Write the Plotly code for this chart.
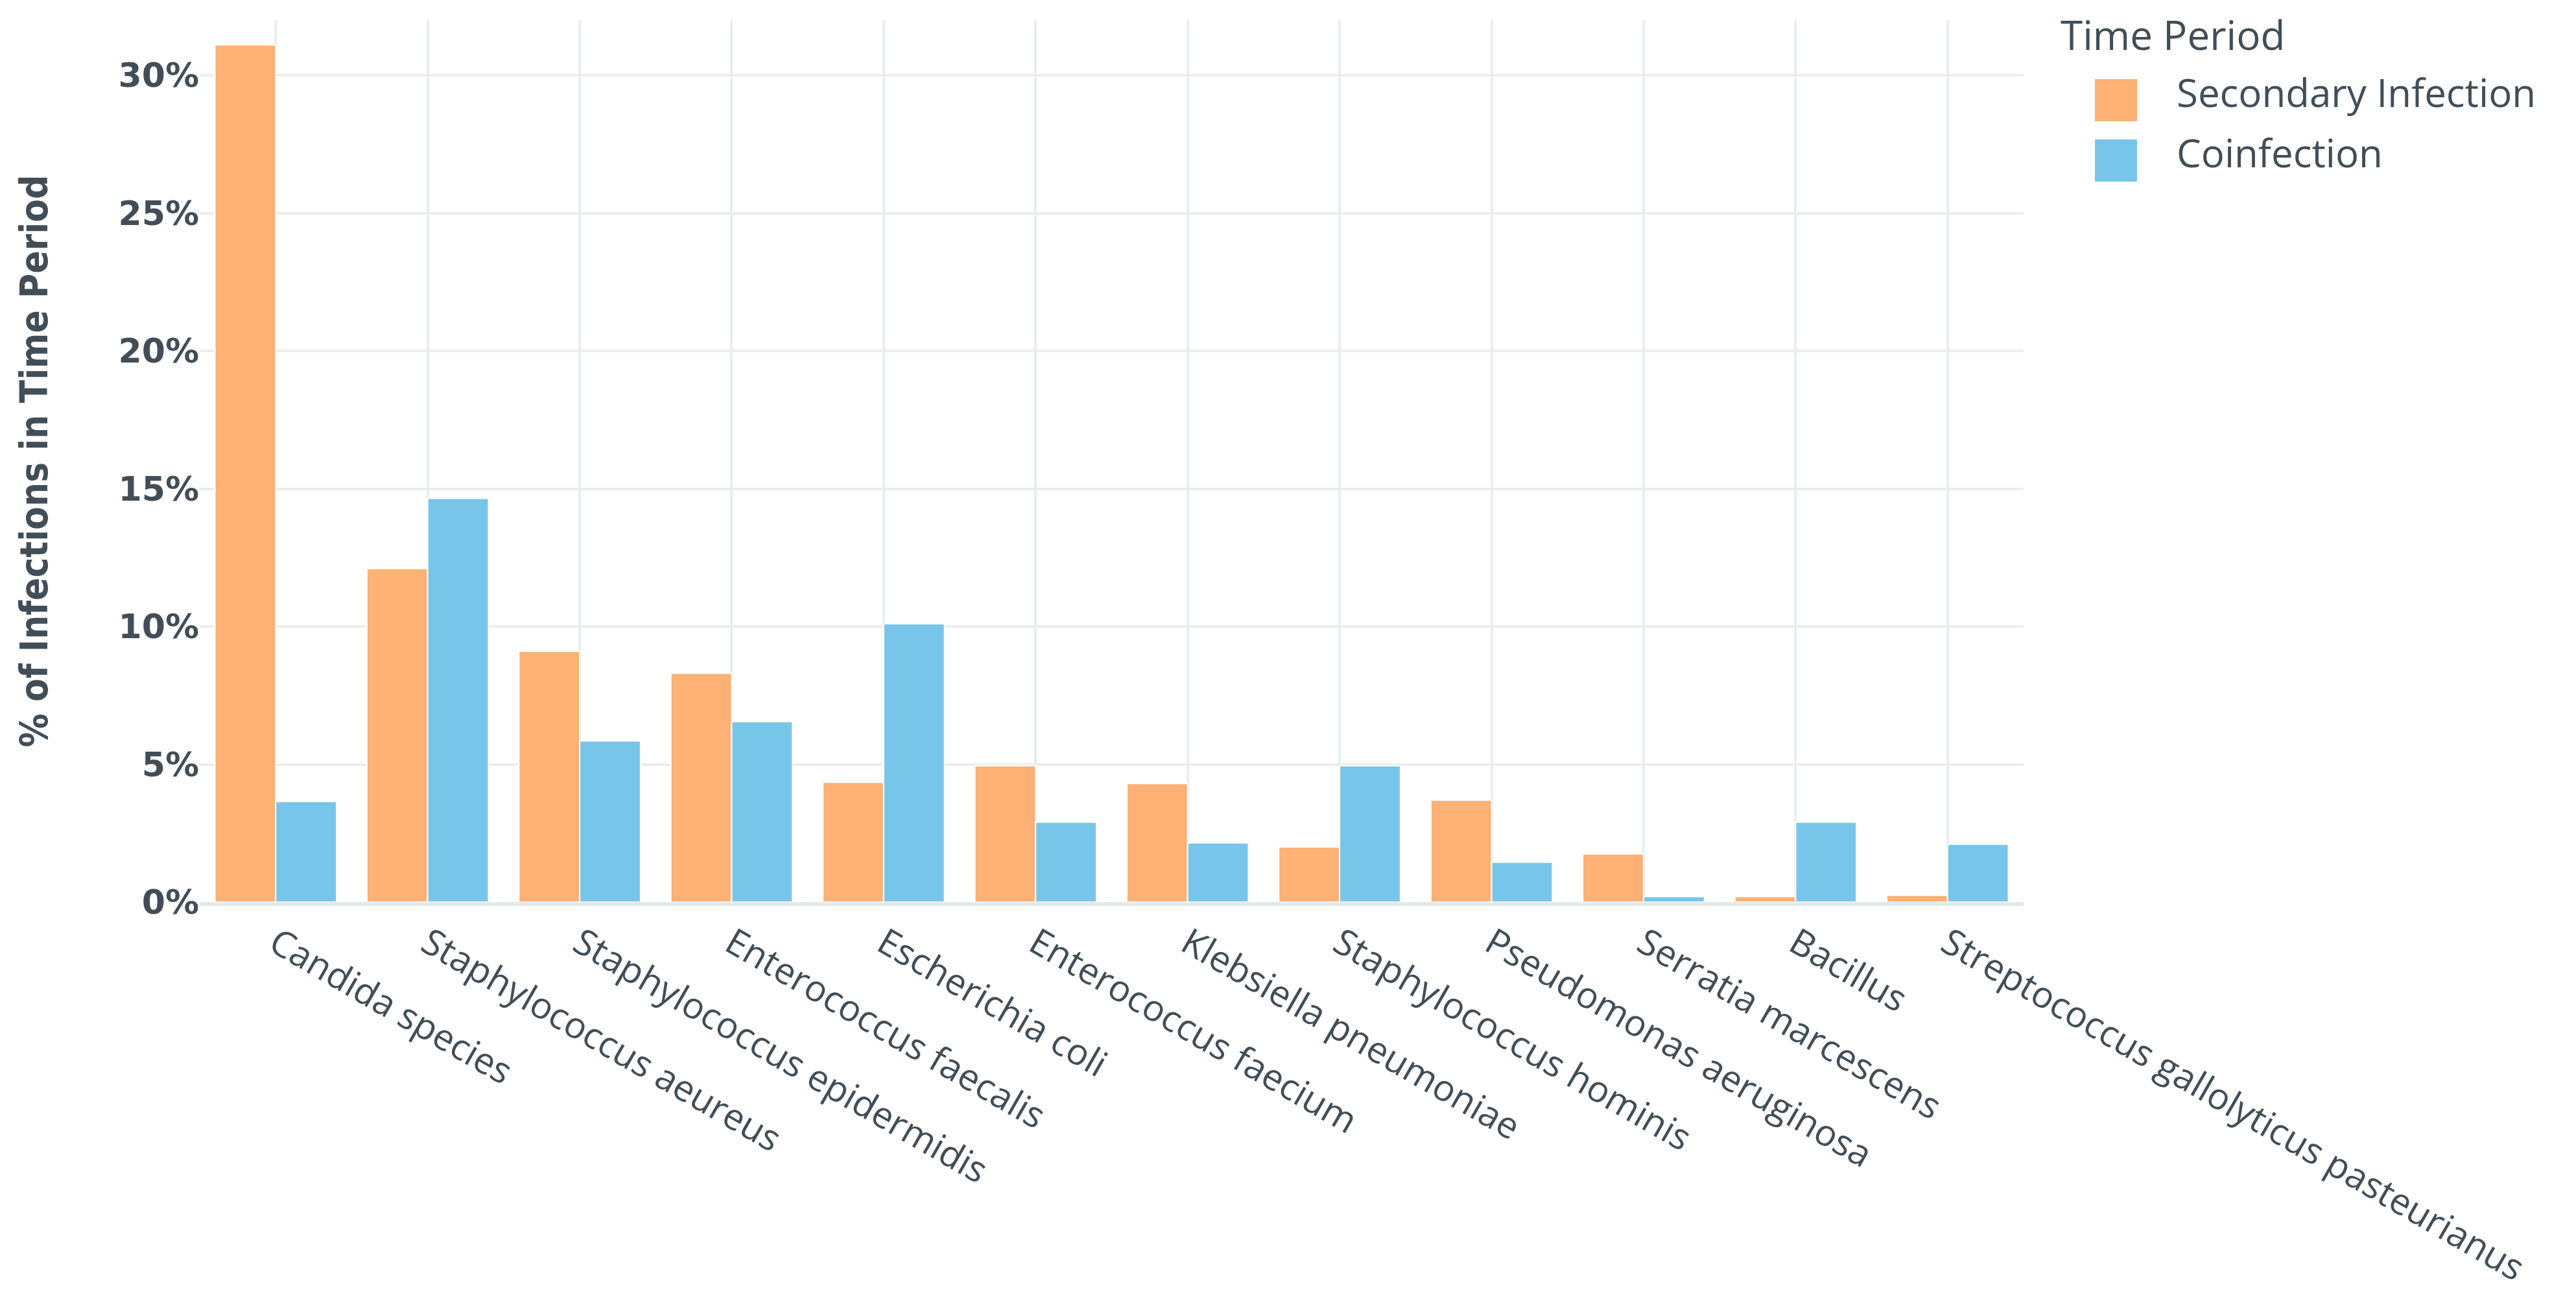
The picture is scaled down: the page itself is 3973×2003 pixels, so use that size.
import plotly.graph_objects as go

# values (% of infections in each time period)
organisms = [
    "Candida species", "Staphylococcus aeureus", "Staphylococcus epidermidis",
    "Enterococcus faecalis", "Escherichia coli", "Enterococcus faecium",
    "Klebsiella pneumoniae", "Staphylococcus hominis", "Pseudomonas aeruginosa",
    "Serratia marcescens", "Bacillus", "Streptococcus gallolyticus pasteurianus",
]
secondary = [31.1, 12.1, 9.1, 8.3, 4.35, 4.95, 4.3, 2.0, 3.7, 1.75, 0.2, 0.25]
coinfection = [3.65, 14.65, 5.85, 6.55, 10.1, 2.9, 2.15, 4.95, 1.45, 0.2, 2.9, 2.1]

y_ticks = [0, 5, 10, 15, 20, 25, 30]
y_tick_text = ["0%", "5%", "10%", "15%", "20%", "25%", "30%"]
series_names = ["Secondary Infection", "Coinfection"]
series_colors = ["#FDB174", "#78C5EA"]
legend_title = "Time Period"

TEXT = "#414E57"
GRID = "#EBEEEF"
W, H = 3973, 2003
L, R, T, B = 300, 860, 23, 620
PW, PH = W - L - R, H - T - B


def px(x):
    return (x - L) / PW


def py(y):
    return (H - B - y) / PH


fig = go.Figure()
for name, vals, color in zip(series_names, [secondary, coinfection], series_colors):
    fig.add_trace(go.Bar(
        x=organisms,
        y=vals,
        name=name,
        marker=dict(color=color, line=dict(color="white", width=2)),
        showlegend=False,
    ))

# legend drawn by hand so the swatches can be as large as in the reference
fig.add_annotation(
    x=px(3168), y=py(45), xref="paper", yref="paper",
    text=legend_title, showarrow=False, xanchor="left", yanchor="middle",
    font=dict(family="Open Sans", size=62, color=TEXT),
)
for i, (name, color) in enumerate(zip(series_names, series_colors)):
    top = 114 + i * 93
    fig.add_shape(
        type="rect", xref="paper", yref="paper",
        x0=px(3223), x1=px(3288), y0=py(top + 65), y1=py(top),
        fillcolor=color, line=dict(width=0),
    )
    fig.add_annotation(
        x=px(3347), y=py(top + 20), xref="paper", yref="paper",
        text=name, showarrow=False, xanchor="left", yanchor="middle",
        font=dict(family="Open Sans", size=60, color=TEXT),
    )

fig.update_layout(
    width=W, height=H,
    margin=dict(l=L, r=R, t=T, b=B, autoexpand=False),
    barmode="group",
    bargap=0.2,
    bargroupgap=0,
    plot_bgcolor="white",
    paper_bgcolor="white",
    font=dict(family="Open Sans", color=TEXT),
)
fig.update_xaxes(
    tickangle=30,
    tickfont=dict(family="Open Sans", size=56, color=TEXT),
    showgrid=True, gridcolor=GRID, gridwidth=4,
    showline=True, linecolor="#E4E9E9", linewidth=6,
    ticks="outside", ticklen=3, tickcolor="rgba(0,0,0,0)",
)
fig.update_yaxes(
    range=[0, 32],
    tickvals=y_ticks, ticktext=y_tick_text,
    tickfont=dict(family="DejaVu Sans", size=52, color=TEXT, weight="bold"),
    showgrid=True, gridcolor=GRID, gridwidth=4,
    zeroline=False,
    title=dict(
        text="% of Infections in Time Period",
        font=dict(family="DejaVu Sans Condensed", size=58, color=TEXT, weight="bold"),
        standoff=90,
    ),
)

fig.write_html("out.html")
